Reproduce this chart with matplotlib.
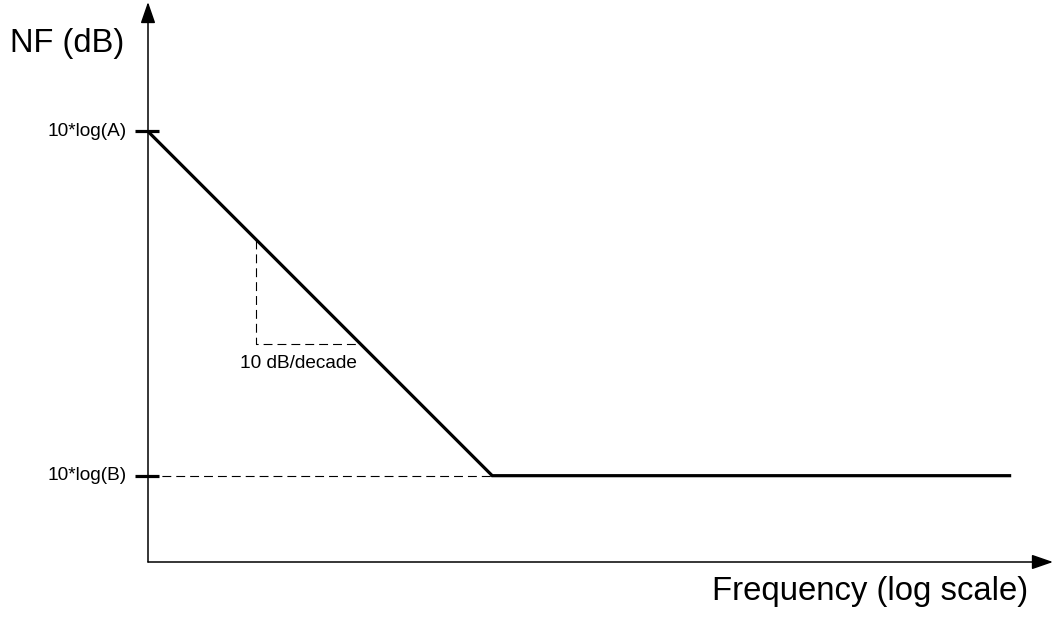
import matplotlib
matplotlib.use("Agg")
import matplotlib.pyplot as plt

plt.rcParams['font.family'] = ['Liberation Sans', 'DejaVu Sans']

# Asymptotic noise-figure curve: x in decades of frequency, y in dB
freq_decades = [0.0, 3.31, 8.3]
nf_db = [41.4, 8.3, 8.3]

level_labels = ["10*log(A)", "10*log(B)"]
level_values = [41.4, 8.3]

# slope guide triangle (one decade run)
guide_x = [1.04, 1.04, 2.04]
guide_y = [31.0, 21.0, 21.0]
slope_label = "10 dB/decade"

x_label = "Frequency (log scale)"
y_label = "NF (dB)"

W, H, DPI = 1055, 617, 100
PX_PER_DECADE = 104.0
PX_PER_DB = 10.4
X0, Y0 = 148, 562  # origin in pixels

fig = plt.figure(figsize=(W / DPI, H / DPI), dpi=DPI)
ax = fig.add_axes([0, 0, 1, 1])
ax.set_xlim(-X0 / PX_PER_DECADE, (W - X0) / PX_PER_DECADE)
ax.set_ylim(-(H - Y0) / PX_PER_DB, Y0 / PX_PER_DB)
ax.axis('off')

def px_x(p):
    return p / PX_PER_DECADE

def px_y(p):
    return p / PX_PER_DB

DASH = (8, 4.5)

# axes with arrowheads
x_end = px_x(W - 2 - X0)
y_end = px_y(Y0 - 2)
ax.annotate("", xy=(x_end, 0), xytext=(0, 0),
            arrowprops=dict(arrowstyle="-|>,head_length=1.3,head_width=0.45",
                            color="black", lw=1.1, shrinkA=0, shrinkB=0))
ax.annotate("", xy=(0, y_end), xytext=(0, 0),
            arrowprops=dict(arrowstyle="-|>,head_length=1.3,head_width=0.45",
                            color="black", lw=1.1, shrinkA=0, shrinkB=0))

# dashed reference line at the floor level
ax.plot([0, freq_decades[1]], [nf_db[1], nf_db[1]], color="black", lw=0.8,
        dashes=DASH)

# slope guide
ax.plot(guide_x, guide_y, color="black", lw=0.8, dashes=DASH)
ax.text((guide_x[0] + guide_x[2]) / 2 + px_x(-10), guide_y[1] - px_y(20),
        slope_label, fontsize=13.7, ha='center', va='center')

# the curve
ax.plot(freq_decades, nf_db, color="black", lw=2.3, solid_capstyle='butt',
        solid_joinstyle='miter')

# level ticks and labels
for lab, val in zip(level_labels, level_values):
    ax.plot([px_x(-13), px_x(11)], [val, val], color="black", lw=2.3,
            solid_capstyle='butt')
    ax.text(px_x(-21), val, lab, fontsize=13.7, ha='right', va='center')

ax.text(px_x(10 - X0), px_y(Y0 - 52), y_label, fontsize=23.5,
        ha='left', va='baseline')
ax.text(px_x(712 - X0), px_y(Y0 - 600), x_label, fontsize=23.7,
        ha='left', va='baseline')

fig.savefig("out.png", dpi=DPI)
